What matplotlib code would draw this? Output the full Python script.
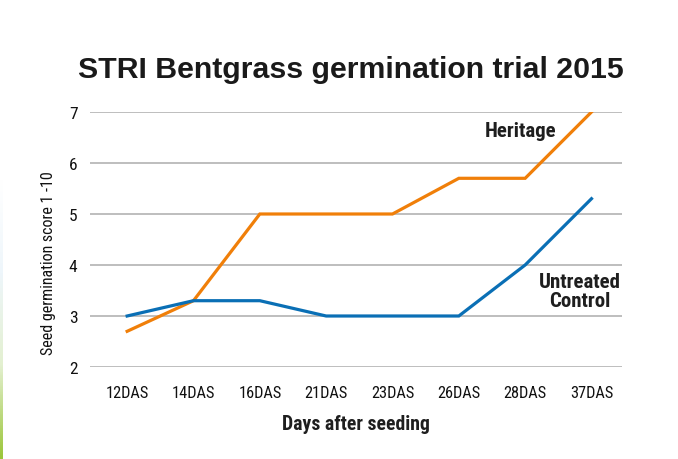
import numpy as np
import matplotlib.pyplot as plt
from matplotlib.colors import LinearSegmentedColormap

# chart data
days = ['12DAS', '14DAS', '16DAS', '21DAS', '23DAS', '26DAS', '28DAS', '37DAS']
heritage = [2.7, 3.3, 5.0, 5.0, 5.0, 5.7, 5.7, 7.0]
untreated = [3.0, 3.3, 3.3, 3.0, 3.0, 3.0, 4.0, 5.3]
yticks = [2, 3, 4, 5, 6, 7]

orange = '#f07f09'
blue = '#0a6fb5'
ink = '#1e1e1e'
narrow = ['Roboto Condensed', 'DejaVu Sans']

fig = plt.figure(figsize=(6.78, 4.6), dpi=100)
ax = fig.add_axes([90 / 678, 1 - 368 / 460, (622 - 90) / 678, (368 - 113) / 460])

x = np.arange(len(days))
ax.plot(x, heritage, color=orange, lw=2.3, solid_joinstyle='miter')
ax.plot(x, untreated, color=blue, lw=2.3, solid_joinstyle='miter')

ax.set_xlim(-0.56, 7.46)
ax.set_ylim(2, 7)
ax.set_yticks(yticks)
ax.set_xticks(x)
ax.set_xticklabels(days, family=narrow, fontsize=11.8, color='#111111')
ax.set_yticklabels([str(v) for v in yticks], family=narrow, fontsize=12.5, color='#111111')
ax.tick_params(length=0)
ax.tick_params(axis='y', pad=9)
ax.tick_params(axis='x', pad=13)
ax.grid(axis='y', color='#b3b3b3', lw=1.2)
ax.set_axisbelow(True)
for s in ax.spines.values():
    s.set_visible(False)

ax.set_ylabel('Seed germination score 1 -10', family=narrow, fontsize=11.5,
              color='#111111')
ax.yaxis.set_label_coords(-0.064, 0.41)
ax.set_xlabel('Days after seeding', family=narrow, fontsize=14.2, weight='bold',
              color=ink)
ax.xaxis.set_label_coords(0.5, -0.186)

ax.text(5.93, 6.63, 'Heritage', family=narrow, fontsize=15, weight='bold',
        color=ink, ha='center', va='center')
ax.text(7.44, 3.49, 'Untreated\nControl', family=narrow, fontsize=15, weight='bold',
        color=ink, ha='right', va='center', multialignment='center', linespacing=1.0)

fig.text(351 / 678, 1 - 70 / 460, 'STRI Bentgrass germination trial 2015',
         family=['Liberation Sans', 'DejaVu Sans'], fontsize=21.8, weight='bold',
         color='#1a1a1a', ha='center', va='center')

# thin gradient strip at the left edge
strip = fig.add_axes([0, 0, 3 / 678, 1 - 180 / 460])
cmap = LinearSegmentedColormap.from_list('strip', ['#9cc63a', '#e3f0d0', '#eef6fb', '#ffffff'])
strip.imshow(np.linspace(0, 1, 100).reshape(-1, 1), aspect='auto', cmap=cmap, origin='lower')
strip.axis('off')

fig.savefig('out.png', dpi=100)
